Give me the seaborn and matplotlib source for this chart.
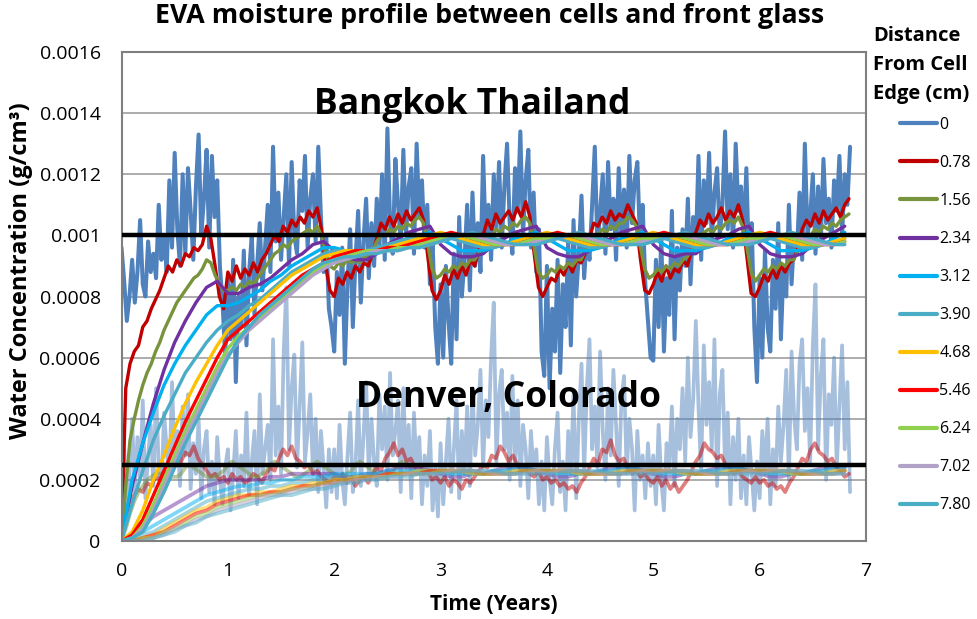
import numpy as np
import pandas as pd
import matplotlib
matplotlib.use("Agg")
import matplotlib.pyplot as plt
from matplotlib.lines import Line2D
import seaborn as sns

# Distance from the cell edge (cm) and the colour of each profile
distances = ["0", "0.78", "1.56", "2.34", "3.12", "3.90", "4.68", "5.46", "6.24", "7.02", "7.80"]
colors = ["#4F81BD", "#C00000", "#77933C", "#7030A0", "#00B0F0", "#4BACC6",
          "#FFC000", "#FF0000", "#92D050", "#B3A2C7", "#4BACC6"]

# Sampling intervals (years): surface values every 0.025 yr, near-edge every 0.04 yr,
# deep positions every 0.1 yr
edge_step = 0.025
fine_step = 0.04
coarse_step = 0.1

# Water concentration in mg/cm3 (1 mg/cm3 = 0.001 g/cm3)
# ---- Bangkok, Thailand ----
bkk_0 = [0.96, 0.85, 0.72, 0.80, 0.92, 0.78, 0.88, 1.05, 0.84, 0.80, 0.98, 0.88, 0.94, 0.86, 1.10, 0.92, 1.00, 0.88, 1.18, 0.96,
         1.27, 1.02, 0.90, 1.20, 0.94, 1.22, 1.08, 0.92, 1.16, 1.33, 1.00, 1.12, 1.28, 0.96, 1.26, 1.06, 1.18, 0.90, 0.78, 0.60,
         0.86, 0.66, 0.92, 0.52, 0.80, 0.70, 0.95, 0.64, 0.88, 1.00, 0.74, 0.90, 1.04, 0.82, 0.96, 1.10, 0.88, 1.29, 0.98, 1.14,
         0.92, 1.06, 1.20, 0.90, 1.24, 1.00, 0.94, 1.18, 1.08, 1.26, 0.96, 1.12, 1.20, 0.98, 1.29, 1.06, 0.88, 1.00, 0.76, 0.70,
         0.62, 0.88, 0.74, 0.96, 0.58, 0.84, 1.02, 0.70, 0.92, 1.08, 0.78, 0.98, 1.12, 0.86, 1.04, 0.90, 1.12, 0.96, 1.20, 0.92,
         1.35, 1.04, 0.94, 1.25, 1.10, 0.98, 1.28, 1.00, 1.16, 1.22, 0.94, 1.30, 1.06, 1.18, 0.96, 1.10, 0.84, 0.98, 0.70, 0.58,
         0.84, 0.60, 0.90, 0.72, 0.58, 0.94, 0.66, 1.06, 0.80, 0.92, 1.10, 0.82, 1.14, 0.90, 1.04, 0.88, 1.26, 0.98, 1.10, 0.92,
         1.20, 1.02, 1.24, 0.96, 1.16, 1.30, 1.04, 0.94, 1.22, 1.08, 1.34, 1.00, 1.18, 1.28, 0.96, 1.14, 0.88, 1.02, 0.62, 0.54,
         0.90, 0.50, 0.76, 0.62, 0.92, 0.55, 0.84, 0.70, 0.98, 0.64, 1.05, 0.80, 0.94, 1.13, 0.86, 1.00, 0.92, 1.10, 1.29, 0.96,
         1.08, 1.20, 0.94, 1.24, 1.02, 1.12, 0.92, 1.22, 1.00, 1.15, 0.96, 1.26, 1.04, 1.18, 1.24, 0.98, 1.10, 0.84, 0.72, 0.60,
         0.59, 0.92, 0.70, 1.00, 0.62, 0.86, 0.74, 1.08, 0.66, 0.96, 0.82, 1.02, 0.90, 1.12, 0.84, 1.06, 0.96, 1.26, 0.92, 1.18,
         1.04, 1.27, 0.98, 1.14, 1.22, 1.00, 1.10, 1.34, 1.02, 1.20, 0.96, 1.30, 1.08, 1.16, 0.98, 1.22, 0.90, 1.04, 0.70, 0.52,
         0.86, 0.60, 0.95, 0.70, 0.62, 0.92, 0.76, 1.04, 0.66, 0.90, 0.80, 1.10, 0.84, 1.00, 0.94, 1.14, 0.92, 1.30, 1.00, 1.06,
         1.20, 0.94, 1.16, 0.98, 1.25, 1.04, 1.12, 0.96, 1.18, 1.08, 1.26, 1.00, 1.20, 1.10, 1.29]
bkk_078 = [0.00, 0.50, 0.58, 0.62, 0.64, 0.70, 0.72, 0.76, 0.79, 0.82, 0.86, 0.90, 0.88, 0.92, 0.90, 0.94, 0.93, 0.96, 0.95, 0.97, 1.03, 0.99, 0.90, 0.80, 0.76,
           0.88, 0.85, 0.90, 0.86, 0.89, 0.87, 0.91, 0.88, 0.92, 0.94, 0.97, 1.00, 0.98, 1.03, 1.01, 1.05, 1.03, 1.06, 1.04, 1.08, 1.06, 1.09, 1.02, 0.90, 0.82,
           0.80, 0.86, 0.84, 0.88, 0.86, 0.90, 0.88, 0.91, 0.90, 0.94, 0.99, 1.04, 1.02, 1.06, 1.03, 1.07, 1.04, 1.08, 1.05, 1.07, 1.09, 1.05, 0.93, 0.82, 0.79,
           0.82, 0.87, 0.84, 0.89, 0.86, 0.90, 0.87, 0.92, 0.90, 0.95, 1.00, 1.05, 1.02, 1.07, 1.04, 1.06, 1.08, 1.05, 1.09, 1.06, 1.11, 1.06, 0.94, 0.83, 0.80,
           0.83, 0.86, 0.85, 0.89, 0.87, 0.91, 0.88, 0.92, 0.91, 0.94, 0.99, 1.04, 1.03, 1.06, 1.04, 1.08, 1.05, 1.07, 1.06, 1.10, 1.07, 1.04, 0.92, 0.82, 0.81,
           0.84, 0.88, 0.85, 0.90, 0.86, 0.89, 0.88, 0.92, 0.90, 0.95, 1.01, 1.05, 1.03, 1.07, 1.04, 1.06, 1.09, 1.05, 1.08, 1.06, 1.10, 1.05, 0.93, 0.81, 0.80,
           0.83, 0.87, 0.85, 0.89, 0.86, 0.90, 0.88, 0.91, 0.92, 0.96, 1.02, 1.05, 1.03, 1.07, 1.04, 1.08, 1.05, 1.07, 1.09, 1.06, 1.10, 1.12]
bkk_156 = [0.00, 0.18, 0.33, 0.40, 0.46, 0.51, 0.55, 0.58, 0.62, 0.65, 0.69, 0.72, 0.75, 0.78, 0.80, 0.82, 0.84, 0.86, 0.87, 0.89, 0.92, 0.91, 0.87, 0.84, 0.82,
           0.82, 0.83, 0.82, 0.84, 0.83, 0.85, 0.84, 0.86, 0.88, 0.90, 0.92, 0.94, 0.95, 0.97, 0.96, 0.98, 0.99, 1.00, 1.01, 1.02, 1.01, 1.03, 1.00, 0.94, 0.90,
           0.89, 0.91, 0.90, 0.92, 0.91, 0.92, 0.91, 0.93, 0.93, 0.95, 0.98, 1.00, 1.00, 1.02, 1.01, 1.03, 1.02, 1.04, 1.03, 1.05, 1.06, 1.04, 0.97, 0.89, 0.86,
           0.87, 0.89, 0.88, 0.90, 0.89, 0.91, 0.90, 0.92, 0.92, 0.94, 0.97, 1.00, 0.99, 1.02, 1.01, 1.03, 1.02, 1.04, 1.03, 1.05, 1.06, 1.04, 0.96, 0.88, 0.86,
           0.87, 0.89, 0.88, 0.90, 0.89, 0.91, 0.90, 0.92, 0.92, 0.95, 0.98, 1.00, 1.00, 1.02, 1.01, 1.03, 1.02, 1.04, 1.04, 1.06, 1.05, 1.03, 0.96, 0.89, 0.86,
           0.87, 0.89, 0.88, 0.90, 0.89, 0.91, 0.90, 0.92, 0.93, 0.95, 0.98, 1.00, 1.01, 1.02, 1.01, 1.03, 1.02, 1.04, 1.05, 1.04, 1.06, 1.03, 0.96, 0.88, 0.85,
           0.87, 0.89, 0.88, 0.90, 0.89, 0.91, 0.90, 0.92, 0.92, 0.95, 0.98, 1.00, 1.00, 1.02, 1.01, 1.03, 1.02, 1.04, 1.03, 1.05, 1.06, 1.07]
bkk_234 = [0.00, 0.18, 0.32, 0.45, 0.56, 0.65, 0.72, 0.78, 0.83, 0.85,
           0.81, 0.81, 0.83, 0.84, 0.86, 0.89, 0.92, 0.94, 0.97, 0.98,
           0.95, 0.93, 0.92, 0.92, 0.94, 0.97, 0.99, 1.01, 1.02, 1.03,
           0.97, 0.94, 0.93, 0.93, 0.94, 0.97, 0.99, 1.01, 1.02, 1.03,
           0.96, 0.94, 0.93, 0.93, 0.95, 0.97, 0.99, 1.01, 1.02, 1.03,
           0.97, 0.94, 0.93, 0.94, 0.94, 0.97, 0.99, 1.00, 1.02, 1.03,
           0.97, 0.94, 0.93, 0.93, 0.94, 0.97, 0.99, 1.01, 1.03]
bkk_312 = [0.00, 0.20, 0.32, 0.42, 0.51, 0.58, 0.64, 0.69, 0.74, 0.77,
           0.77, 0.78, 0.80, 0.82, 0.85, 0.87, 0.90, 0.92, 0.94, 0.96,
           0.96, 0.95, 0.94, 0.94, 0.95, 0.96, 0.98, 0.99, 1.00, 1.01,
           0.99, 0.97, 0.95, 0.95, 0.95, 0.96, 0.97, 0.99, 1.00, 1.01,
           0.99, 0.97, 0.95, 0.95, 0.95, 0.96, 0.97, 0.99, 1.00, 1.01,
           0.99, 0.97, 0.95, 0.95, 0.95, 0.96, 0.97, 0.99, 1.00, 1.01,
           0.99, 0.97, 0.95, 0.95, 0.95, 0.96, 0.97, 0.99, 1.01]
bkk_390 = [0.00, 0.12, 0.23, 0.33, 0.41, 0.48, 0.55, 0.60, 0.65, 0.69,
           0.72, 0.74, 0.77, 0.79, 0.82, 0.85, 0.88, 0.90, 0.92, 0.94,
           0.95, 0.95, 0.95, 0.95, 0.96, 0.97, 0.98, 0.99, 1.00, 1.00,
           1.00, 0.99, 0.98, 0.97, 0.96, 0.96, 0.97, 0.98, 0.99, 1.00,
           1.00, 0.99, 0.98, 0.97, 0.96, 0.96, 0.97, 0.98, 0.99, 1.00,
           1.00, 0.99, 0.98, 0.97, 0.96, 0.96, 0.97, 0.98, 0.99, 1.00,
           1.00, 0.99, 0.98, 0.97, 0.96, 0.96, 0.97, 0.98, 0.99]
bkk_468 = [0.00, 0.03, 0.10, 0.20, 0.28, 0.37, 0.45, 0.52, 0.58, 0.64,
           0.69, 0.72, 0.75, 0.78, 0.81, 0.84, 0.87, 0.89, 0.91, 0.93,
           0.94, 0.95, 0.95, 0.95, 0.95, 0.96, 0.97, 0.98, 0.99, 1.00,
           1.01, 1.00, 0.99, 0.98, 0.97, 0.97, 0.97, 0.98, 0.99, 1.00,
           1.01, 1.00, 0.99, 0.98, 0.97, 0.97, 0.97, 0.98, 0.99, 1.00,
           1.01, 1.00, 0.99, 0.98, 0.97, 0.97, 0.97, 0.98, 0.99, 1.00,
           1.01, 1.00, 0.99, 0.98, 0.97, 0.97, 0.97, 0.98, 0.99]
bkk_546 = [0.00, 0.02, 0.07, 0.15, 0.23, 0.31, 0.39, 0.46, 0.53, 0.60,
           0.66, 0.69, 0.72, 0.75, 0.78, 0.81, 0.84, 0.87, 0.89, 0.91,
           0.93, 0.94, 0.95, 0.95, 0.95, 0.96, 0.96, 0.97, 0.98, 0.99,
           1.00, 1.01, 1.00, 0.99, 0.98, 0.97, 0.97, 0.97, 0.98, 0.99,
           1.00, 1.01, 1.00, 0.99, 0.98, 0.97, 0.97, 0.97, 0.98, 0.99,
           1.00, 1.01, 1.00, 0.99, 0.98, 0.97, 0.97, 0.97, 0.98, 0.99,
           1.00, 1.01, 1.00, 0.99, 0.98, 0.97, 0.97, 0.97, 0.98]
bkk_624 = [0.00, 0.01, 0.05, 0.12, 0.20, 0.28, 0.36, 0.43, 0.50, 0.57,
           0.63, 0.67, 0.70, 0.73, 0.76, 0.79, 0.82, 0.85, 0.88, 0.90,
           0.92, 0.93, 0.94, 0.95, 0.95, 0.95, 0.96, 0.96, 0.97, 0.98,
           0.99, 1.00, 1.00, 0.99, 0.98, 0.97, 0.97, 0.97, 0.98, 0.99,
           0.99, 1.00, 1.00, 0.99, 0.98, 0.97, 0.97, 0.97, 0.98, 0.99,
           0.99, 1.00, 1.00, 0.99, 0.98, 0.97, 0.97, 0.97, 0.98, 0.99,
           0.99, 1.00, 1.00, 0.99, 0.98, 0.97, 0.97, 0.97, 0.98]
bkk_702 = [0.00, 0.01, 0.04, 0.10, 0.18, 0.26, 0.34, 0.41, 0.48, 0.55,
           0.61, 0.65, 0.69, 0.72, 0.75, 0.78, 0.81, 0.84, 0.87, 0.89,
           0.91, 0.92, 0.93, 0.94, 0.95, 0.95, 0.95, 0.96, 0.96, 0.97,
           0.98, 0.99, 1.00, 1.00, 0.99, 0.98, 0.97, 0.97, 0.97, 0.98,
           0.98, 0.99, 1.00, 1.00, 0.99, 0.98, 0.97, 0.97, 0.97, 0.98,
           0.98, 0.99, 1.00, 1.00, 0.99, 0.98, 0.97, 0.97, 0.97, 0.98,
           0.98, 0.99, 1.00, 1.00, 0.99, 0.98, 0.97, 0.97, 0.97]
bkk_780 = [0.00, 0.01, 0.03, 0.09, 0.16, 0.24, 0.32, 0.39, 0.46, 0.53,
           0.60, 0.66, 0.70, 0.74, 0.77, 0.80, 0.83, 0.86, 0.89, 0.91,
           0.92, 0.93, 0.93, 0.94, 0.94, 0.95, 0.95, 0.96, 0.96, 0.97,
           0.98, 0.99, 1.00, 1.01, 1.00, 0.99, 0.98, 0.97, 0.97, 0.97,
           0.98, 0.99, 1.00, 1.01, 1.00, 0.99, 0.98, 0.97, 0.97, 0.97,
           0.98, 0.99, 1.00, 1.01, 1.00, 0.99, 0.98, 0.97, 0.97, 0.97,
           0.98, 0.99, 1.00, 1.01, 1.00, 0.99, 0.98, 0.97, 0.97]

# ---- Denver, Colorado ----
den_0 = [0.15, 0.30, 0.12, 0.22, 0.40, 0.16, 0.34, 0.20, 0.46, 0.14, 0.28, 0.38, 0.18, 0.50, 0.24, 0.16, 0.42, 0.30, 0.20, 0.52,
         0.26, 0.36, 0.18, 0.44, 0.28, 0.48, 0.17, 0.32, 0.22, 0.40, 0.14, 0.30, 0.36, 0.16, 0.26, 0.12, 0.34, 0.20, 0.12, 0.24,
         0.30, 0.10, 0.22, 0.36, 0.14, 0.28, 0.18, 0.42, 0.15, 0.26, 0.36, 0.12, 0.48, 0.22, 0.30, 0.38, 0.20, 0.66, 0.28, 0.44,
         0.22, 0.62, 0.83, 0.30, 0.50, 0.61, 0.24, 0.44, 0.65, 0.26, 0.36, 0.48, 0.22, 0.40, 0.16, 0.36, 0.24, 0.11, 0.30, 0.16,
         0.30, 0.14, 0.38, 0.20, 0.12, 0.28, 0.42, 0.16, 0.24, 0.46, 0.18, 0.34, 0.52, 0.22, 0.40, 0.26, 0.18, 0.48, 0.30, 0.44,
         0.20, 0.55, 0.28, 0.36, 0.46, 0.16, 0.50, 0.24, 0.38, 0.14, 0.42, 0.22, 0.34, 0.12, 0.28, 0.18, 0.36, 0.10, 0.24, 0.08,
         0.32, 0.12, 0.26, 0.40, 0.16, 0.30, 0.46, 0.14, 0.36, 0.22, 0.44, 0.18, 0.50, 0.28, 0.38, 0.56, 0.24, 0.46, 0.34, 0.60,
         0.78, 0.26, 0.48, 0.56, 0.30, 0.42, 0.20, 0.54, 0.26, 0.46, 0.18, 0.38, 0.30, 0.14, 0.36, 0.22, 0.30, 0.12, 0.26, 0.10,
         0.34, 0.20, 0.12, 0.30, 0.42, 0.16, 0.26, 0.10, 0.36, 0.22, 0.48, 0.14, 0.40, 0.58, 0.22, 0.50, 0.66, 0.30, 0.44, 0.24,
         0.62, 0.36, 0.20, 0.50, 0.28, 0.56, 0.38, 0.18, 0.46, 0.54, 0.22, 0.40, 0.30, 0.10, 0.36, 0.20, 0.28, 0.14, 0.32, 0.18,
         0.28, 0.12, 0.38, 0.20, 0.10, 0.32, 0.24, 0.44, 0.18, 0.40, 0.30, 0.50, 0.26, 0.60, 0.34, 0.46, 0.72, 0.44, 0.22, 0.64,
         0.38, 0.52, 0.30, 0.66, 0.18, 0.48, 0.56, 0.24, 0.42, 0.12, 0.34, 0.20, 0.40, 0.14, 0.28, 0.12, 0.34, 0.22, 0.10, 0.26,
         0.14, 0.36, 0.22, 0.40, 0.12, 0.30, 0.18, 0.44, 0.26, 0.38, 0.56, 0.20, 0.62, 0.40, 0.30, 0.58, 0.66, 0.36, 0.50, 0.26,
         0.64, 0.84, 0.30, 0.54, 0.66, 0.20, 0.48, 0.38, 0.60, 0.24, 0.44, 0.64, 0.30, 0.52, 0.16]
den_078 = [0.00, 0.10, 0.13, 0.15, 0.17, 0.16, 0.19, 0.18, 0.21, 0.20, 0.23, 0.22, 0.25, 0.27, 0.26, 0.29, 0.28, 0.31, 0.27, 0.25, 0.23, 0.21, 0.22, 0.20, 0.21,
           0.19, 0.22, 0.20, 0.21, 0.19, 0.20, 0.22, 0.21, 0.19, 0.22, 0.24, 0.23, 0.27, 0.30, 0.28, 0.31, 0.27, 0.26, 0.24, 0.25, 0.22, 0.23, 0.21, 0.20, 0.19,
           0.21, 0.20, 0.22, 0.19, 0.21, 0.18, 0.20, 0.21, 0.19, 0.22, 0.24, 0.23, 0.27, 0.29, 0.32, 0.28, 0.30, 0.26, 0.27, 0.24, 0.25, 0.22, 0.23, 0.20, 0.21,
           0.19, 0.21, 0.18, 0.20, 0.19, 0.17, 0.20, 0.19, 0.21, 0.23, 0.25, 0.24, 0.28, 0.27, 0.31, 0.29, 0.26, 0.28, 0.25, 0.23, 0.24, 0.22, 0.21, 0.23, 0.20,
           0.21, 0.19, 0.20, 0.18, 0.19, 0.17, 0.18, 0.16, 0.19, 0.21, 0.24, 0.27, 0.25, 0.30, 0.29, 0.33, 0.28, 0.26, 0.27, 0.24, 0.22, 0.23, 0.21, 0.22, 0.20,
           0.19, 0.21, 0.18, 0.20, 0.17, 0.19, 0.16, 0.18, 0.20, 0.23, 0.26, 0.28, 0.32, 0.30, 0.29, 0.27, 0.28, 0.25, 0.24, 0.22, 0.23, 0.21, 0.20, 0.19, 0.21,
           0.19, 0.20, 0.18, 0.19, 0.17, 0.18, 0.16, 0.19, 0.21, 0.24, 0.27, 0.26, 0.30, 0.32, 0.29, 0.28, 0.26, 0.27, 0.24, 0.23, 0.21, 0.22]
den_156 = [0.00, 0.04, 0.09, 0.13, 0.16, 0.18, 0.20, 0.21, 0.22, 0.22,
           0.22, 0.21, 0.21, 0.21, 0.22, 0.24, 0.25, 0.24, 0.23, 0.22,
           0.21, 0.21, 0.21, 0.22, 0.23, 0.25, 0.26, 0.25, 0.24, 0.23,
           0.22, 0.21, 0.21, 0.22, 0.23, 0.25, 0.26, 0.25, 0.24, 0.23,
           0.22, 0.21, 0.21, 0.22, 0.23, 0.25, 0.26, 0.25, 0.24, 0.23,
           0.22, 0.21, 0.21, 0.22, 0.23, 0.25, 0.26, 0.25, 0.24, 0.23,
           0.22, 0.21, 0.21, 0.22, 0.23, 0.25, 0.26, 0.25, 0.24]
den_234 = [0.00, 0.02, 0.05, 0.08, 0.10, 0.12, 0.14, 0.16, 0.18, 0.19,
           0.20, 0.20, 0.20, 0.20, 0.21, 0.21, 0.22, 0.22, 0.22, 0.22,
           0.22, 0.21, 0.21, 0.22, 0.22, 0.23, 0.24, 0.24, 0.24, 0.23,
           0.22, 0.21, 0.21, 0.22, 0.22, 0.23, 0.24, 0.24, 0.24, 0.23,
           0.22, 0.21, 0.21, 0.22, 0.22, 0.23, 0.24, 0.24, 0.24, 0.23,
           0.22, 0.21, 0.21, 0.22, 0.22, 0.23, 0.24, 0.24, 0.24, 0.23,
           0.22, 0.21, 0.21, 0.22, 0.22, 0.23, 0.24, 0.24, 0.24]
den_312 = [0.00, 0.01, 0.03, 0.05, 0.07, 0.09, 0.11, 0.13, 0.15, 0.16,
           0.17, 0.18, 0.18, 0.19, 0.19, 0.20, 0.20, 0.21, 0.21, 0.21,
           0.22, 0.22, 0.22, 0.22, 0.22, 0.23, 0.23, 0.23, 0.23, 0.23,
           0.23, 0.22, 0.22, 0.22, 0.22, 0.23, 0.23, 0.24, 0.24, 0.23,
           0.23, 0.22, 0.22, 0.22, 0.22, 0.23, 0.23, 0.24, 0.24, 0.23,
           0.23, 0.22, 0.22, 0.22, 0.22, 0.23, 0.23, 0.24, 0.24, 0.23,
           0.23, 0.22, 0.22, 0.22, 0.22, 0.23, 0.23, 0.24, 0.24]
den_390 = [0.00, 0.00, 0.02, 0.03, 0.05, 0.07, 0.09, 0.11, 0.13, 0.14,
           0.15, 0.16, 0.17, 0.17, 0.18, 0.18, 0.19, 0.19, 0.20, 0.20,
           0.21, 0.21, 0.21, 0.21, 0.22, 0.22, 0.22, 0.23, 0.23, 0.23,
           0.23, 0.23, 0.22, 0.22, 0.22, 0.22, 0.23, 0.23, 0.23, 0.23,
           0.23, 0.23, 0.22, 0.22, 0.22, 0.22, 0.23, 0.23, 0.23, 0.23,
           0.23, 0.23, 0.22, 0.22, 0.22, 0.22, 0.23, 0.23, 0.23, 0.23,
           0.23, 0.23, 0.22, 0.22, 0.22, 0.22, 0.23, 0.23, 0.23]
den_468 = [0.00, 0.00, 0.01, 0.02, 0.04, 0.06, 0.08, 0.10, 0.11, 0.13,
           0.14, 0.15, 0.15, 0.16, 0.16, 0.17, 0.18, 0.18, 0.19, 0.19,
           0.20, 0.20, 0.21, 0.21, 0.21, 0.22, 0.22, 0.22, 0.23, 0.23,
           0.23, 0.23, 0.23, 0.22, 0.22, 0.22, 0.22, 0.23, 0.23, 0.23,
           0.23, 0.23, 0.23, 0.22, 0.22, 0.22, 0.22, 0.23, 0.23, 0.23,
           0.23, 0.23, 0.23, 0.22, 0.22, 0.22, 0.22, 0.23, 0.23, 0.23,
           0.23, 0.23, 0.23, 0.22, 0.22, 0.22, 0.22, 0.23, 0.23]
den_546 = [0.00, 0.00, 0.01, 0.02, 0.03, 0.05, 0.07, 0.09, 0.10, 0.12,
           0.13, 0.14, 0.15, 0.15, 0.16, 0.16, 0.17, 0.18, 0.18, 0.19,
           0.19, 0.20, 0.20, 0.21, 0.21, 0.22, 0.22, 0.22, 0.22, 0.23,
           0.23, 0.23, 0.23, 0.23, 0.22, 0.22, 0.22, 0.22, 0.23, 0.23,
           0.23, 0.23, 0.23, 0.23, 0.22, 0.22, 0.22, 0.22, 0.23, 0.23,
           0.23, 0.23, 0.23, 0.23, 0.22, 0.22, 0.22, 0.22, 0.23, 0.23,
           0.23, 0.23, 0.23, 0.23, 0.22, 0.22, 0.22, 0.22, 0.23]
den_624 = [0.00, 0.00, 0.01, 0.01, 0.03, 0.04, 0.06, 0.08, 0.09, 0.11,
           0.12, 0.13, 0.14, 0.15, 0.15, 0.16, 0.17, 0.17, 0.18, 0.19,
           0.19, 0.20, 0.20, 0.21, 0.21, 0.21, 0.22, 0.22, 0.22, 0.22,
           0.23, 0.23, 0.23, 0.23, 0.22, 0.22, 0.22, 0.22, 0.23, 0.23,
           0.23, 0.23, 0.23, 0.23, 0.22, 0.22, 0.22, 0.22, 0.23, 0.23,
           0.23, 0.23, 0.23, 0.23, 0.22, 0.22, 0.22, 0.22, 0.23, 0.23,
           0.23, 0.23, 0.23, 0.23, 0.22, 0.22, 0.22, 0.22, 0.23]
den_702 = [0.00, 0.00, 0.00, 0.01, 0.02, 0.04, 0.05, 0.07, 0.08, 0.10,
           0.11, 0.12, 0.13, 0.14, 0.15, 0.15, 0.16, 0.17, 0.17, 0.18,
           0.19, 0.19, 0.20, 0.20, 0.21, 0.21, 0.21, 0.22, 0.22, 0.22,
           0.22, 0.23, 0.23, 0.23, 0.23, 0.22, 0.22, 0.22, 0.22, 0.23,
           0.22, 0.23, 0.23, 0.23, 0.23, 0.22, 0.22, 0.22, 0.22, 0.23,
           0.22, 0.23, 0.23, 0.23, 0.23, 0.22, 0.22, 0.22, 0.22, 0.23,
           0.22, 0.23, 0.23, 0.23, 0.23, 0.22, 0.22, 0.22, 0.22]
den_780 = [0.00, 0.00, 0.00, 0.01, 0.02, 0.03, 0.05, 0.06, 0.08, 0.09,
           0.10, 0.11, 0.12, 0.13, 0.14, 0.15, 0.15, 0.16, 0.17, 0.17,
           0.18, 0.19, 0.19, 0.20, 0.20, 0.21, 0.21, 0.21, 0.22, 0.22,
           0.22, 0.22, 0.23, 0.23, 0.23, 0.23, 0.22, 0.22, 0.22, 0.22,
           0.22, 0.22, 0.23, 0.23, 0.23, 0.23, 0.22, 0.22, 0.22, 0.22,
           0.22, 0.22, 0.23, 0.23, 0.23, 0.23, 0.22, 0.22, 0.22, 0.22,
           0.22, 0.22, 0.23, 0.23, 0.23, 0.23, 0.22, 0.22, 0.22]

# Reference levels (g/cm3)
bangkok_level = 0.001
denver_level = 0.00025

y_ticks = [0, 0.0002, 0.0004, 0.0006, 0.0008, 0.001, 0.0012, 0.0014, 0.0016]
y_tick_labels = ["0", "0.0002", "0.0004", "0.0006", "0.0008", "0.001", "0.0012", "0.0014", "0.0016"]
x_ticks = [0, 1, 2, 3, 4, 5, 6, 7]

bangkok = [bkk_0, bkk_078, bkk_156, bkk_234, bkk_312, bkk_390, bkk_468, bkk_546, bkk_624, bkk_702, bkk_780]
denver = [den_0, den_078, den_156, den_234, den_312, den_390, den_468, den_546, den_624, den_702, den_780]
steps = [edge_step, fine_step, fine_step] + [coarse_step] * 8


def long_frame(series):
    parts = []
    for label, vals, step in zip(distances, series, steps):
        vals = np.asarray(vals, dtype=float)
        parts.append(pd.DataFrame({
            "Time": np.arange(len(vals)) * step,
            "Water": vals / 1000.0,
            "Distance": label,
        }))
    return pd.concat(parts, ignore_index=True)


df_bkk = long_frame(bangkok)
df_den = long_frame(denver)

sns.set_theme(style="white")
plt.rcParams["font.family"] = ["Open Sans", "DejaVu Sans"]
plt.rcParams["text.color"] = "black"
plt.rcParams["axes.labelcolor"] = "black"

W, H = 977, 619
fig = plt.figure(figsize=(W / 100, H / 100), dpi=100)
ax = fig.add_axes([121.5 / W, 1 - 541 / H, (866 - 121.5) / W, (541 - 52) / H])

palette = dict(zip(distances, colors))
sizes_bkk = {d: (2.9 if d == "0" else 2.4) for d in distances}
sizes_den = {d: 2.7 for d in distances}

# Denver drawn first and faded, Bangkok on top in full colour
sns.lineplot(data=df_den, x="Time", y="Water", hue="Distance", hue_order=distances,
             size="Distance", sizes=sizes_den, size_order=distances,
             palette=palette, estimator=None, sort=False, alpha=0.5,
             legend=False, ax=ax)
sns.lineplot(data=df_bkk, x="Time", y="Water", hue="Distance", hue_order=distances,
             size="Distance", sizes=sizes_bkk, size_order=distances,
             palette=palette, estimator=None, sort=False,
             legend=False, ax=ax)

ax.axhline(bangkok_level, color="black", lw=3.2, zorder=6)
ax.axhline(denver_level, color="black", lw=3.2, zorder=6)

ax.set_xlim(0, 7)
ax.set_ylim(0, 0.0016)
ax.set_xticks(x_ticks)
ax.set_xticklabels([str(v) for v in x_ticks])
ax.set_yticks(y_ticks)
ax.set_yticklabels(y_tick_labels)
ax.tick_params(axis="both", length=0, labelsize=14, colors="black")
ax.tick_params(axis="y", pad=15)
ax.tick_params(axis="x", pad=15)
ax.yaxis.grid(True, color="#A6A6A6", lw=1.3, zorder=0)
ax.xaxis.grid(False)
ax.set_axisbelow(True)
for side in ["left", "right", "top", "bottom"]:
    ax.spines[side].set_color("#7F7F7F")
    ax.spines[side].set_linewidth(1.5)

ax.set_xlabel("Time (Years)", fontsize=15, fontweight="bold", labelpad=10)
ax.set_ylabel("Water Concentration (g/cm³)", fontsize=17, fontweight="bold")
ax.yaxis.set_label_coords((33 - 121.5) / (866 - 121.5), (541 - 271) / (541 - 52))

fig.text(490 / W, 1 - 16 / H, "EVA moisture profile between cells and front glass",
         ha="center", va="center", fontsize=19.3, fontweight="bold")

ax.text(472 / W, 1 - 105 / H, "Bangkok Thailand", transform=fig.transFigure,
        ha="center", va="center", fontsize=25.5, fontweight="bold", zorder=7)
ax.text(509 / W, 1 - 398 / H, "Denver, Colorado", transform=fig.transFigure,
        ha="center", va="center", fontsize=25.5, fontweight="bold", zorder=7)

# Legend: title block plus one entry per distance
fig.text(873 / W, 1 - 26 / H, "Distance\nFrom Cell\nEdge (cm)", ha="left", va="top",
         fontsize=14.5, fontweight="bold", linespacing=1.6)
handles = [Line2D([0], [0], color=c, lw=3) for c in colors]
fig.legend(handles, distances, loc="upper left", bbox_to_anchor=(900 / W, 1 - 117 / H),
           frameon=False, fontsize=11.5, handlelength=2.3, handletextpad=0.15,
           labelspacing=1.38, borderpad=0, borderaxespad=0)

fig.savefig("out.png", dpi=100)
